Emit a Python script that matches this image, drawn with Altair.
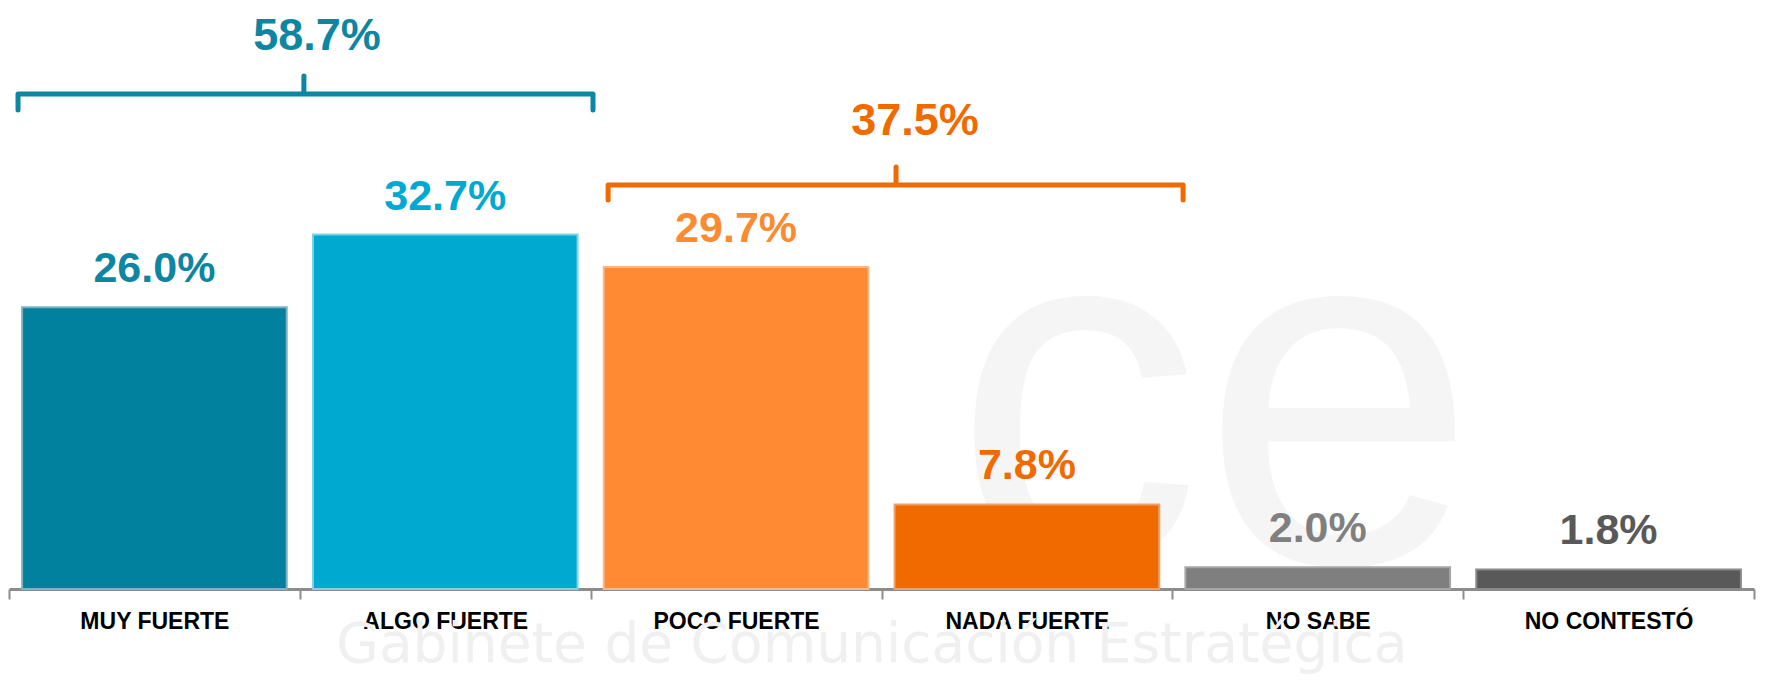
import altair as alt
import pandas as pd

# ---- chart values ----
categories = ["MUY FUERTE", "ALGO FUERTE", "POCO FUERTE", "NADA FUERTE", "NO SABE", "NO CONTESTÓ"]
values = [26.0, 32.7, 29.7, 7.8, 2.0, 1.8]
value_labels = ["26.0%", "32.7%", "29.7%", "7.8%", "2.0%", "1.8%"]

group_totals = ["58.7%", "37.5%"]

# ---- styles ----
bar_colors = ["#02819F", "#00A9D0", "#FF8A33", "#F06A00", "#7F7F7F", "#595959"]
bar_edges = ["#7DB3C4", "#7FD3E8", "#F7B98A", "#F0A06A", "#A6A6A6", "#8A8A8A"]
label_colors = ["#0E85A2", "#00A9D2", "#FA8B30", "#F06A00", "#808080", "#595959"]
bracket_colors = ["#0C86A3", "#F06A00"]

# ---- annotation anchors (x in category units 0..6, y in % units) ----
bracket_left = [0.031, 2.060]
bracket_mid = [1.014, 3.050]
bracket_right = [2.008, 4.037]
bracket_level = [45.66, 37.27]
bracket_hook = [44.19, 35.89]
bracket_top = [47.32, 38.93]
bracket_label_x = [1.059, 3.115]
bracket_label_y = [49.72, 41.88]

W = 1745
H = 575
y_scale = alt.Scale(domain=[0, 53.04], nice=False)
band_scale = alt.Scale(paddingInner=0, paddingOuter=0)
lin_scale = alt.Scale(domain=[0, 6], nice=False, zero=False)
FONT = "Liberation Sans"

df = pd.DataFrame({
    "cat": categories,
    "val": values,
    "label": value_labels,
    "fill": bar_colors,
    "edge": bar_edges,
    "lcolor": label_colors,
})

# bracket paths
rows = []
for i in range(2):
    pts = [
        (bracket_left[i], bracket_hook[i]),
        (bracket_left[i], bracket_level[i]),
        (bracket_mid[i], bracket_level[i]),
        (bracket_mid[i], bracket_top[i]),
        (bracket_mid[i], bracket_level[i]),
        (bracket_right[i], bracket_level[i]),
        (bracket_right[i], bracket_hook[i]),
    ]
    for k, (xx, yy) in enumerate(pts):
        rows.append({"b": i, "o": k, "x": xx, "y": yy, "c": bracket_colors[i]})
bdf = pd.DataFrame(rows)

bldf = pd.DataFrame({
    "x": bracket_label_x,
    "y": bracket_label_y,
    "t": group_totals,
    "c": bracket_colors,
})

# watermark
wm_df = pd.DataFrame({"x": [5.048], "y": [2.4], "t": ["ce"]})
wm2_df = pd.DataFrame({"x": [2.967], "y": [-6.73], "t": ["Gabinete de  Comunicación  Estratégica"]})

logo = alt.Chart(wm_df).mark_text(
    font=FONT, fontSize=496, align="right", baseline="alphabetic", color="#F5F5F5"
).encode(
    x=alt.X("x:Q", scale=lin_scale, axis=None),
    y=alt.Y("y:Q", scale=y_scale, axis=None),
    text="t:N",
)

wm_text = alt.Chart(wm2_df).mark_text(
    font="DejaVu Sans", fontSize=55, align="center", baseline="alphabetic", color="#F0F0F0"
).encode(
    x=alt.X("x:Q", scale=lin_scale, axis=None),
    y=alt.Y("y:Q", scale=y_scale, axis=None),
    text="t:N",
)

bars = alt.Chart(df).mark_bar(strokeWidth=2, width=alt.RelativeBandSize(0.91)).encode(
    x=alt.X(
        "cat:N",
        sort=categories,
        scale=band_scale,
        axis=alt.Axis(
            title=None,
            labelAngle=0,
            labelFont=FONT,
            labelFontWeight="bold",
            labelFontSize=23,
            labelColor="#000000",
            labelPadding=11,
            tickSize=10,
            tickBand="extent",
            tickColor="#8C8C8C",
            tickWidth=2,
            domainColor="#8C8C8C",
            domainWidth=3,
            grid=False,
        ),
    ),
    y=alt.Y("val:Q", scale=y_scale, axis=None),
    fill=alt.Fill("fill:N", scale=None),
    stroke=alt.Stroke("edge:N", scale=None),
)

labels = alt.Chart(df).mark_text(
    font=FONT, fontSize=43, fontWeight="bold", baseline="alphabetic", dy=-25
).encode(
    x=alt.X("cat:N", sort=categories, scale=band_scale, axis=None),
    y=alt.Y("val:Q", scale=y_scale, axis=None),
    text="label:N",
    color=alt.Color("lcolor:N", scale=None),
)

brackets = alt.Chart(bdf).mark_line(strokeWidth=5, strokeJoin="round", strokeCap="round").encode(
    x=alt.X("x:Q", scale=lin_scale, axis=None),
    y=alt.Y("y:Q", scale=y_scale, axis=None),
    order="o:Q",
    detail="b:N",
    color=alt.Color("c:N", scale=None),
)

bracket_labels = alt.Chart(bldf).mark_text(
    font=FONT, fontSize=45, fontWeight="bold", baseline="alphabetic"
).encode(
    x=alt.X("x:Q", scale=lin_scale, axis=None),
    y=alt.Y("y:Q", scale=y_scale, axis=None),
    text="t:N",
    color=alt.Color("c:N", scale=None),
)

chart = alt.layer(logo, wm_text, bars, labels, brackets, bracket_labels).resolve_scale(
    x="independent"
).properties(
    width=W,
    height=H,
    autosize=alt.AutoSizeParams(type="none"),
    padding={"left": 1, "top": 6, "right": 4, "bottom": 87},
    background="white",
).configure_view(stroke=None)

chart.save("out.html", embed_options={"renderer": "svg", "actions": False})
